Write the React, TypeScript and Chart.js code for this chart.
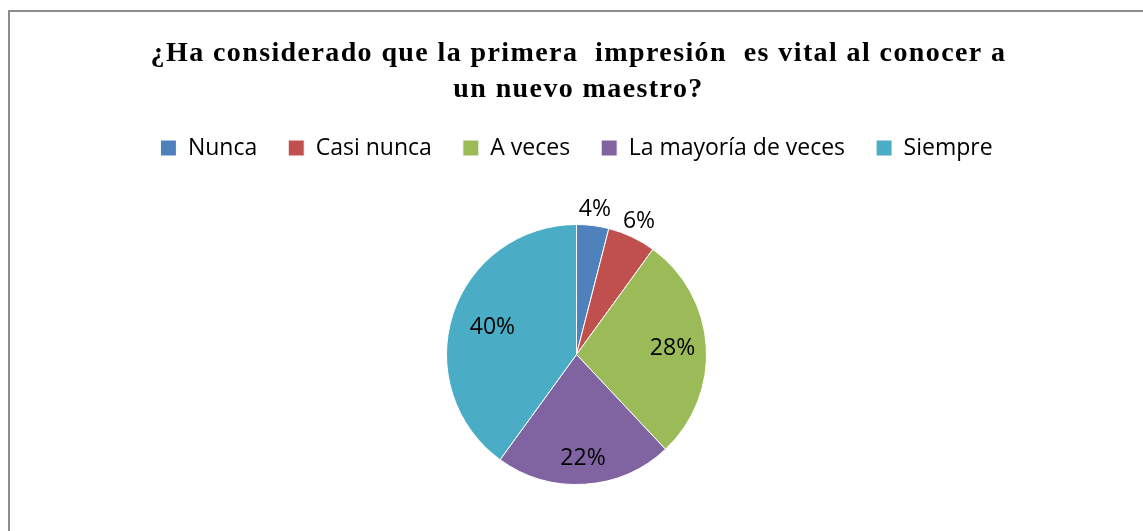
import React, { useEffect, useRef } from "react";
import { Chart, registerables } from "chart.js";

Chart.register(...registerables);

const categories = ["Nunca", "Casi nunca", "A veces", "La mayoría de veces", "Siempre"];
const percentages = [4, 6, 28, 22, 40];
const sliceColors = ["#4F81BD", "#C0504D", "#9BBB59", "#8064A2", "#4BACC6"];
const titleLines = [
  "¿Ha considerado que la primera  impresión  es vital al conocer a",
  "un nuevo maestro?",
];
// radial distance of each percentage label, as a fraction of the pie radius
const labelRadialFactors = [1.125, 1.13, 0.74, 0.8, 0.68];

const LABEL_FONT = "'Open Sans', 'Noto Sans', sans-serif";
const TITLE_FONT = "bold 28px 'Liberation Serif', 'Times New Roman', serif";

const titlePlugin = {
  id: "customTitle",
  afterDraw(chart: any) {
    const ctx = chart.ctx;
    ctx.save();
    ctx.font = TITLE_FONT;
    (ctx as any).letterSpacing = "1.4px";
    ctx.fillStyle = "#000";
    ctx.textAlign = "center";
    ctx.textBaseline = "alphabetic";
    const cx = chart.width / 2 + 2;
    titleLines.forEach((line, i) => {
      ctx.fillText(line, cx, 49 + i * 36);
    });
    ctx.restore();
  },
};

const pieLabelPlugin = {
  id: "pieLabels",
  afterDatasetsDraw(chart: any) {
    const ctx = chart.ctx;
    const meta = chart.getDatasetMeta(0);
    ctx.save();
    ctx.font = `23px ${LABEL_FONT}`;
    ctx.fillStyle = "#000";
    ctx.textAlign = "center";
    ctx.textBaseline = "middle";
    meta.data.forEach((arc: any, i: number) => {
      const { x, y, startAngle, endAngle, outerRadius } = arc.getProps(
        ["x", "y", "startAngle", "endAngle", "outerRadius"],
        true
      );
      const mid = (startAngle + endAngle) / 2;
      const d = outerRadius * labelRadialFactors[i];
      ctx.fillText(`${percentages[i]}%`, x + Math.cos(mid) * d, y + Math.sin(mid) * d);
    });
    ctx.restore();
  },
};

export default function App() {
  const canvasRef = useRef<HTMLCanvasElement | null>(null);

  useEffect(() => {
    if (!canvasRef.current) return;
    const chart = new Chart(canvasRef.current, {
      type: "pie",
      data: {
        labels: categories,
        datasets: [
          {
            data: percentages,
            backgroundColor: sliceColors,
            borderColor: "#ffffff",
            borderWidth: 1,
            radius: 130,
          },
        ],
      },
      options: {
        responsive: false,
        animation: false,
        layout: { padding: { top: 93.5, bottom: 12.5, left: 0, right: 0 } },
        plugins: {
          title: { display: false },
          legend: {
            display: true,
            position: "top",
            labels: {
              boxWidth: 16,
              boxHeight: 16,
              padding: 31,
              color: "#000",
              font: { family: LABEL_FONT, size: 23 },
            },
          },
          tooltip: { enabled: false },
        },
      },
      plugins: [pieLabelPlugin, titlePlugin],
    });
    return () => chart.destroy();
  }, []);

  return (
    <div
      style={{
        position: "fixed",
        left: 8,
        top: 10,
        borderLeft: "2px solid #8c8c8c",
        borderTop: "2px solid #8c8c8c",
        background: "#fff",
      }}
    >
      <canvas ref={canvasRef} width={1133} height={540} style={{ display: "block" }} />
    </div>
  );
}
